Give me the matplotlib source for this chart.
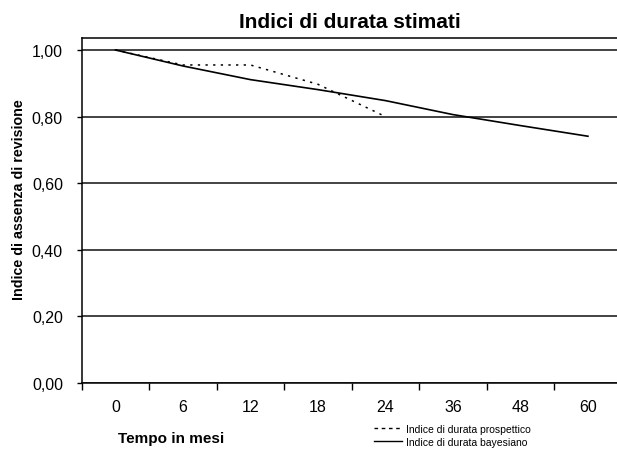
import matplotlib
matplotlib.use("Agg")
import matplotlib.pyplot as plt
from matplotlib.ticker import FixedLocator, FuncFormatter
from matplotlib.lines import Line2D

categories = ["0", "6", "12", "18", "24", "36", "48", "60"]
prospettico = [1.00, 0.955, 0.955, 0.897, 0.80]
bayesiano = [1.00, 0.952, 0.911, 0.881, 0.848, 0.806, 0.773, 0.741]
yticks = [0.0, 0.2, 0.4, 0.6, 0.8, 1.0]

plt.rcParams['font.family'] = ['Liberation Sans', 'DejaVu Sans']
narrow = ['Liberation Sans Narrow', 'Liberation Sans']

W, H = 617, 452
fig = plt.figure(figsize=(W / 100, H / 100), dpi=100)
left, right, bottom, top = 81.7, 621.7, 384, 39
ax = fig.add_axes([left / W, (H - bottom) / H, (right - left) / W, (bottom - top) / H])

x_b = list(range(len(bayesiano)))
x_p = list(range(len(prospettico)))
ax.plot(x_p, prospettico, color='black', linestyle=(0, (1.5, 3.5)), linewidth=1.1)
ax.plot(x_b, bayesiano, color='black', linestyle='-', linewidth=1.2)

ax.set_xlim(-0.5, len(categories) - 0.5)
ax.set_ylim(0, 1.036)

for y in yticks:
    ax.axhline(y, color='#222222', linewidth=1.2, zorder=0)

ax.set_yticks(yticks)
ax.yaxis.set_major_formatter(FuncFormatter(lambda v, p: f"{v:.2f}".replace('.', ',')))
ax.tick_params(axis='y', direction='out', length=3.6, width=1, labelsize=11.5, pad=9.9)

ax.xaxis.set_major_locator(FixedLocator([i - 0.5 for i in range(len(categories) + 1)]))
ax.xaxis.set_major_formatter(FuncFormatter(lambda v, p: ""))
ax.set_xticks(list(range(len(categories))), minor=True)
ax.set_xticklabels(categories, minor=True)
ax.tick_params(axis='x', which='major', direction='out', length=5, width=1)
ax.tick_params(axis='x', which='minor', length=0, labelsize=11.5, pad=11.3)

for s in ['left', 'bottom', 'top']:
    ax.spines[s].set_linewidth(1.1)
    ax.spines[s].set_color('black')
ax.spines['right'].set_visible(False)

fig.text(350 / W, 1 - 28 / H, 'Indici di durata stimati', ha='center', va='baseline',
         fontsize=15, fontweight='bold')
fig.text(19 / W, 1 - 200 / H, 'Indice di assenza di revisione', ha='center', va='center',
         rotation=90, fontsize=10.3, fontweight='bold')
fig.text(171.5 / W, 1 - 443 / H, 'Tempo in mesi', ha='center', va='baseline',
         fontsize=11, fontweight='bold')

handles = [Line2D([], [], color='black', linestyle=(0, (2.6, 2.6)), linewidth=1.0),
           Line2D([], [], color='black', linestyle='-', linewidth=1.0)]
labels = ['Indice di durata prospettico', 'Indice di durata bayesiano']
fig.legend(handles, labels, loc='upper left', bbox_to_anchor=(374 / W, 1 - 425 / H),
           frameon=False, handlelength=2.7, handletextpad=0.4,
           labelspacing=0.25, borderpad=0, borderaxespad=0,
           prop={'family': narrow, 'size': 7.5})

fig.savefig('out.png', dpi=100)
